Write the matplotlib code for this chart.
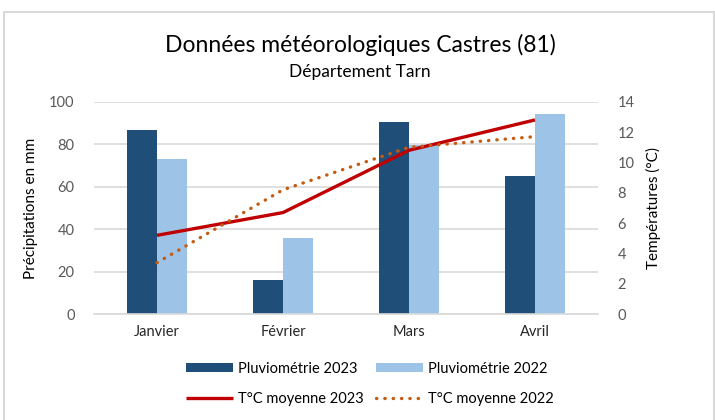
import matplotlib.pyplot as plt
import matplotlib.patches as mpatches
import numpy as np

# data
mois = ['Janvier', 'Février', 'Mars', 'Avril']
pluvio_2023 = [86.5, 16, 90.5, 65]
pluvio_2022 = [73, 36, 79.5, 94]
temp_2023 = [5.2, 6.7, 10.8, 12.8]
temp_2022 = [3.4, 8.2, 11.0, 11.7]

plt.rcParams['font.family'] = ['Lato', 'DejaVu Sans']

W, H = 715, 420
fig = plt.figure(figsize=(W / 100, H / 100), dpi=100)

# chart frame (light grey border of the excel chart area)
fig.patches.append(mpatches.Rectangle((4 / W, -0.05), 710 / W, (H - 12) / H + 0.05,
                                      transform=fig.transFigure, fill=False,
                                      edgecolor='#d9d9d9', linewidth=1.5))

ax = fig.add_axes([94 / W, 105.7 / H, 504 / W, 212.6 / H])
ax2 = ax.twinx()

x = np.arange(len(mois))
bw = 0.24
b1 = ax.bar(x - bw / 2, pluvio_2023, bw, color='#1F4E79', zorder=2, label='Pluviométrie 2023')
b2 = ax.bar(x + bw / 2, pluvio_2022, bw, color='#9DC3E6', zorder=2, label='Pluviométrie 2022')

ax.set_xlim(-0.5, 3.5)
ax.set_ylim(0, 100)
ax.set_yticks(range(0, 101, 20))
ax.grid(axis='y', color='#d9d9d9', linewidth=1.2, zorder=0)
ax.set_axisbelow(True)
for s in ['top', 'left', 'right']:
    ax.spines[s].set_visible(False)
ax.spines['bottom'].set_color('#d9d9d9')
ax.spines['bottom'].set_linewidth(1.2)
ax.set_xticks(x)
ax.set_xticklabels(mois, fontsize=10.5, color='#262626')
ax.tick_params(axis='x', length=0, pad=8)
ax.tick_params(axis='y', length=0, pad=14, labelsize=10.5, labelcolor='#595959')
ax.set_ylabel('Précipitations en mm', fontsize=11, color='#000000', labelpad=8)

l1, = ax2.plot(x, temp_2023, color='#C00000', linewidth=2.4, solid_capstyle='butt',
               label='T°C moyenne 2023', zorder=3)
l2, = ax2.plot(x, temp_2022, color='#C55A11', linewidth=2.4, linestyle=(0, (0.1, 2.4)),
               dash_capstyle='round', label='T°C moyenne 2022', zorder=3)
ax2.set_ylim(0, 14)
ax2.set_yticks(range(0, 15, 2))
for s in ['top', 'left', 'right', 'bottom']:
    ax2.spines[s].set_visible(False)
ax2.tick_params(axis='y', length=0, pad=14, labelsize=10.5, labelcolor='#595959')
ax2.set_ylabel('Températures (°C)', fontsize=11, color='#000000', labelpad=8)

fig.text(360 / W, 1 - 45 / H, 'Données météorologiques Castres (81)', ha='center',
         va='center', fontsize=16.5, color='#000000')
fig.text(360 / W, 1 - 72 / H, 'Département Tarn', ha='center', va='center',
         fontsize=12.5, color='#000000')

fig.legend(handles=[b1, l1, b2, l2], ncol=2, loc='center', frameon=False,
           bbox_to_anchor=(370 / W, 1 - 384 / H), fontsize=10.5,
           handlelength=3.2, handleheight=0.6, handletextpad=0.4,
           columnspacing=0.8, labelspacing=1.1)

fig.savefig('out.png', dpi=100)
